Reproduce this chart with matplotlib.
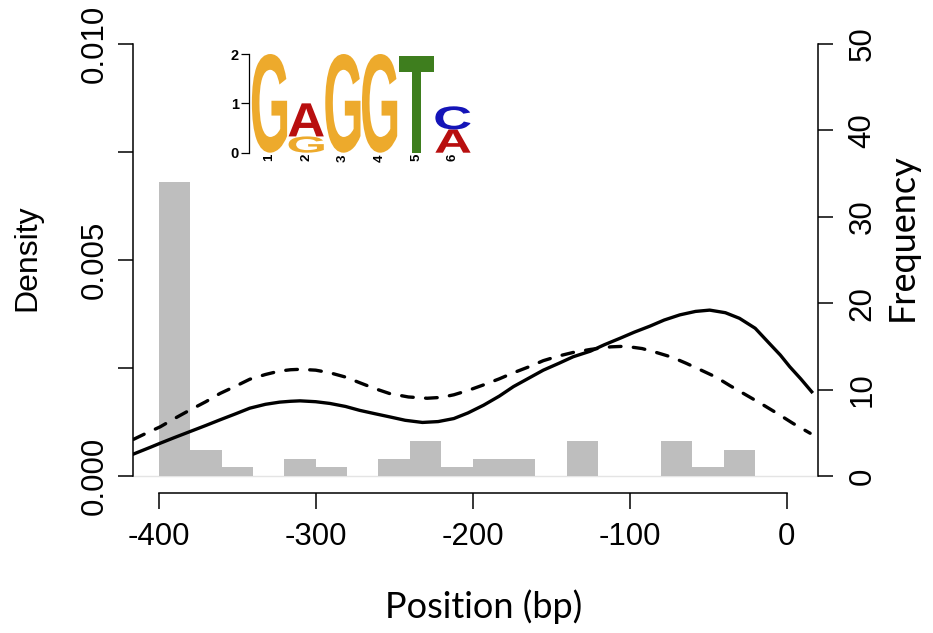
import numpy as np
import matplotlib
matplotlib.use("Agg")
import matplotlib.pyplot as plt
from matplotlib.textpath import TextPath
from matplotlib.patches import PathPatch
from matplotlib.font_manager import FontProperties
import matplotlib.transforms as mtrans

# histogram: 20 bp bins, left edges
bin_left = [-400, -380, -360, -340, -320, -300, -280, -260, -240, -220,
            -200, -180, -160, -140, -120, -100, -80, -60, -40, -20, 0]
bin_count = [34, 3, 1, 0, 2, 1, 0, 2, 4, 1,
             2, 2, 0, 4, 0, 0, 4, 1, 3, 0, 0]

# solid density curve (x1000)
solid_pos = [-416, -405, -399, -390, -380, -370, -361, -351, -342, -332,
             -323, -316, -310, -300, -291, -281, -272, -262, -253, -243,
             -232, -222, -212, -203, -193, -183, -174, -164, -155, -145,
             -136, -125, -116, -106, -97, -87, -78, -68, -58, -49,
             -39, -30, -20, -11, -4, 2, 9, 16]
solid_den = [0.51, 0.67, 0.76, 0.89, 1.03, 1.17, 1.30, 1.44, 1.57, 1.66,
             1.71, 1.73, 1.74, 1.72, 1.68, 1.61, 1.52, 1.44, 1.37, 1.29,
             1.24, 1.26, 1.33, 1.46, 1.64, 1.85, 2.07, 2.27, 2.45, 2.61,
             2.76, 2.89, 3.04, 3.19, 3.33, 3.47, 3.61, 3.73, 3.81, 3.84,
             3.78, 3.65, 3.42, 3.07, 2.80, 2.53, 2.25, 1.95]

# dashed density curve (x1000)
dash_pos = [-416, -408, -399, -390, -380, -370, -361, -351, -342, -332,
            -323, -316, -310, -300, -291, -281, -272, -262, -253, -241,
            -229, -220, -212, -203, -193, -183, -174, -164, -155, -145,
            -136, -125, -112, -105, -100, -92, -83, -73, -64, -55,
            -45, -36, -26, -16, -6, 4, 15]
dash_den = [0.85, 0.99, 1.14, 1.33, 1.53, 1.72, 1.91, 2.08, 2.24, 2.35,
            2.43, 2.46, 2.47, 2.45, 2.39, 2.29, 2.16, 2.02, 1.91, 1.83,
            1.80, 1.82, 1.88, 1.98, 2.11, 2.25, 2.39, 2.53, 2.67, 2.78,
            2.86, 2.93, 2.99, 3.00, 2.99, 2.95, 2.86, 2.75, 2.61, 2.46,
            2.29, 2.09, 1.88, 1.67, 1.45, 1.22, 0.99]

# sequence logo (bits), letters stacked bottom -> top
logo_letters = [["G"], ["G", "A"], ["G"], ["G"], ["T"], ["A", "C"]]
logo_bits = [[2.0], [0.33, 0.67], [2.0], [2.0], [1.95], [0.47, 0.47]]
logo_colors = {"A": "#B80F0F", "C": "#1414B8", "G": "#EDAA2C", "T": "#3E7E1E"}

x_ticks = [-400, -300, -200, -100, 0]
dens_ticks = [0, 0.0025, 0.005, 0.0075, 0.010]
dens_labels = ["0.000", "", "0.005", "", "0.010"]
freq_ticks = [0, 10, 20, 30, 40, 50]

W, H = 933, 633
fig = plt.figure(figsize=(W / 100, H / 100), dpi=100)

def px(x0, y0, x1, y1):
    # pixel box (top-left origin) -> figure fraction rect
    return [x0 / W, 1 - y1 / H, (x1 - x0) / W, (y1 - y0) / H]

ax = fig.add_axes(px(133.3, 26.7, 818.3, 493.3))
ax2 = ax.twinx()
ax.set_zorder(ax2.get_zorder() + 1)
ax.patch.set_visible(False)

# histogram on the frequency axis
ax2.axhline(0, color="#E4E4E4", lw=1.0, zorder=0)
ax2.bar(bin_left, bin_count, width=20, align="edge", color="#BEBEBE",
        edgecolor="none", zorder=1)
ax2.set_ylim(-2, 52)

# density curves
ax.plot(np.array(solid_pos), np.array(solid_den) * 1e-3, color="black", lw=2.4,
        solid_joinstyle="round")
ax.plot(np.array(dash_pos), np.array(dash_den) * 1e-3, color="black", lw=2.4,
        dashes=(3.5, 3.7), dash_capstyle="round", dash_joinstyle="round")
ax.set_xlim(-416.2, 20.2)
ax.set_ylim(-0.0004, 0.0104)

tickfont = "Liberation Sans"
for a in (ax, ax2):
    for s in a.spines.values():
        s.set_visible(False)
        s.set_linewidth(1.1)

ax.spines["left"].set_visible(True)
ax.spines["left"].set_bounds(0, 0.010)
ax.spines["bottom"].set_visible(True)
ax.spines["bottom"].set_bounds(-400, 0)
ax2.spines["right"].set_visible(True)
ax2.spines["right"].set_bounds(0, 50)

ax.set_xticks(x_ticks)
ax.set_xticklabels([str(v) for v in x_ticks], fontfamily=tickfont, fontsize=22.5)
ax.set_yticks(dens_ticks)
ax.set_yticklabels(dens_labels, fontfamily=tickfont, fontsize=22.5,
                   rotation=90, va="center")
ax2.set_yticks(freq_ticks)
ax2.set_yticklabels([str(v) for v in freq_ticks], fontfamily=tickfont,
                    fontsize=22.5, rotation=90, va="center")
ax.tick_params(axis="x", length=11.5, width=1.1, pad=9.5)
ax.tick_params(axis="y", length=11, width=1.1, pad=6)
ax2.tick_params(axis="y", length=11, width=1.1, pad=10)

fig.text(27 / W, 1 - 258 / H, "Density", rotation=90, ha="center", va="center",
         fontfamily=tickfont, fontsize=23)
fig.text(484 / W, 1 - 618 / H, "Position (bp)", ha="center", va="baseline",
         fontfamily="Lato", fontsize=26)
fig.text(902 / W, 1 - 237 / H, "Frequency", rotation=90, ha="center",
         va="center", fontfamily="Lato", fontsize=26)

# sequence logo inset
lax = fig.add_axes(px(249.3, 54, 249.3 + 6.05 * 36.7, 152.7))
lax.set_xlim(0.45, 6.5)
lax.set_ylim(0, 2)
lax.patch.set_visible(False)
for s in ["top", "right", "bottom"]:
    lax.spines[s].set_visible(False)
lax.spines["left"].set_linewidth(0.9)

fp = FontProperties(family="Liberation Sans", weight="bold")

def draw_letter(a, ch, x0, y0, w, h, color):
    tp = TextPath((0, 0), ch, size=1, prop=fp)
    bb = tp.get_extents()
    t = (mtrans.Affine2D().translate(-bb.x0, -bb.y0)
         .scale(w / bb.width, h / bb.height).translate(x0, y0))
    a.add_patch(PathPatch(t.transform_path(tp), fc=color, ec="none"))

for i, (letters, bits) in enumerate(zip(logo_letters, logo_bits), start=1):
    base = 0.0
    for ch, b in zip(letters, bits):
        draw_letter(lax, ch, i - 0.48, base, 0.96, b, logo_colors[ch])
        base += b

lax.set_yticks([0, 1, 2])
lax.set_yticklabels(["0", "1", "2"], fontfamily=tickfont, fontweight="bold",
                    fontsize=10.5)
lax.tick_params(axis="y", length=6, width=0.9, pad=1.5)
lax.set_xticks(range(1, 7))
lax.set_xticklabels([str(i) for i in range(1, 7)], rotation=90,
                    fontfamily=tickfont, fontweight="bold", fontsize=9.5)
lax.tick_params(axis="x", length=0, pad=1)

fig.savefig("out.png", dpi=100)
